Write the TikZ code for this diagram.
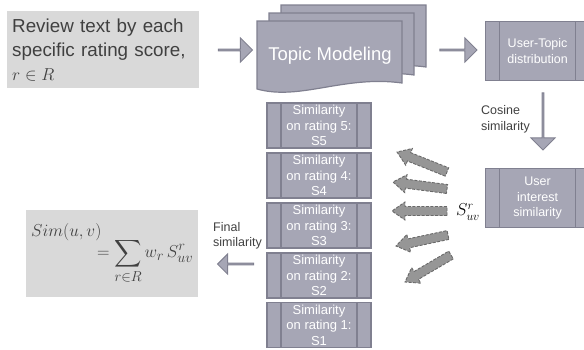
\documentclass[tikz,border=0pt]{standalone}
\usepackage[no-math]{fontspec}
\setmainfont{Liberation Sans}
\usepackage{amsmath}
\usepackage{amssymb}
\usepackage{tikz}
\usetikzlibrary{shapes}
\usetikzlibrary{shapes.arrows}
\usetikzlibrary{calc}
\usetikzlibrary{positioning}
\definecolor{boxfill}{RGB}{166,166,181}
\definecolor{boxedge}{RGB}{128,128,144}
\definecolor{lightfill}{RGB}{217,217,217}
\definecolor{darktext}{RGB}{64,64,64}
\definecolor{dashfill}{RGB}{150,150,150}
\definecolor{dashedge}{RGB}{105,105,105}
\tikzstyle{process}=[rectangle,draw=boxedge,fill=boxfill,line width=1.2pt,inner sep=0pt,text=white,align=center,minimum width=104pt,font=\fontsize{12.5}{15.5}\selectfont,
  path picture={\draw[boxedge,line width=1.2pt] ([xshift=14pt]path picture bounding box.north west) -- ([xshift=14pt]path picture bounding box.south west)
    ([xshift=-14pt]path picture bounding box.north east) -- ([xshift=-14pt]path picture bounding box.south east);}]
\tikzstyle{plain}=[rectangle,fill=lightfill,inner sep=5pt,text=darktext,align=left]
\tikzstyle{bigarrow}=[single arrow,draw=boxedge,fill=boxfill,line width=1pt,inner sep=0pt,minimum width=24pt,single arrow head extend=6pt]
\tikzstyle{fanarrow}=[draw=dashedge,fill=dashfill,dash pattern=on 3pt off 1.5pt,line width=0.9pt,line join=miter]
\tikzstyle{note}=[text=darktext,align=left,inner sep=0pt,font=\fontsize{12.5}{15.5}\selectfont]
\newcommand{\fatarrow}[2]{%
  \coordinate (fh) at ($(#2)!13pt!(#1)$);
  \draw[fanarrow] ($(#1)!4.5pt!90:(#2)$) -- ($(fh)!4.5pt!-90:(#1)$) -- ($(fh)!9pt!-90:(#1)$) -- (#2)
    -- ($(fh)!9pt!90:(#1)$) -- ($(fh)!4.5pt!90:(#1)$) -- ($(#1)!4.5pt!-90:(#2)$) -- cycle;}

\begin{document}
\begin{tikzpicture}[x=1pt,y=-1pt]
  \useasboundingbox (0,0) rectangle (584,349);
  \node[plain,anchor=north west,text width=182pt,minimum height=77pt,font=\fontsize{18.8}{24}\selectfont] at (7,11) (review) {Review text by each\\specific rating score,\\$r\in R$};
  \foreach \dx/\dy in {24/-16,12/-8,0/0}
    \draw[boxedge,fill=boxfill,line width=1.2pt,shift={(\dx,\dy)}] (257,89) -- (257,21) -- (402,21) -- (402,83) .. controls (344,75) and (300,101) .. (257,89) -- cycle;
  \node[text=white,font=\fontsize{18.5}{22}\selectfont] at (330,56) (topic) {Topic Modeling};
  \node[bigarrow,minimum height=34pt] at (235,50) (toTopic) {};
  \node[bigarrow,minimum height=37pt] at (458,50) (toDist) {};
  \node[process,minimum height=59pt,anchor=north west] at (485,21) (dist) {User-Topic\\distribution};
  \node[bigarrow,minimum height=57pt,shape border rotate=270] at (543,121) (toCos) {};
  \node[note,anchor=west] at (481,119.5) (cosine) {Cosine\\similarity};
  \node[process,minimum height=59pt,anchor=north west] at (485,168) (interest) {User\\interest\\similarity};
  \node[font=\fontsize{17}{20}\selectfont] at (468,212) (suv) {$S_{uv}^{r}$};
  \foreach \r/\y in {5/125.5,4/175.5,3/225.5,2/275.5,1/325}
    \node[process,minimum height=45pt,font=\fontsize{13}{15.5}\selectfont] at (319,\y) (sim\r) {Similarity\\on rating \r:\\S\r};
  \foreach \i/\tx/\ty/\px/\py in {5/447/172/397/152,4/447/189/393/182,3/447/211/392/211,2/448/235/396/246,1/451/255/405/282}{
    \coordinate (tail\i) at (\tx,\ty);
    \coordinate (tip\i) at (\px,\py);
    \fatarrow{tail\i}{tip\i}
  }
  \node[bigarrow,minimum width=20pt,single arrow head extend=5pt,minimum height=36pt,shape border rotate=180] at (236,264) (toFinal) {};
  \node[note,anchor=west] at (213,236) (final) {Final\\similarity};
  \node[plain,anchor=north west,text width=162pt,minimum height=87pt,font=\fontsize{19}{22}\selectfont] at (26,210) (simuv) {$Sim(u,v)$\\[-3pt]\mbox{}\hfill$\displaystyle =\sum_{r\in R} w_r\,S_{uv}^{r}$};
\end{tikzpicture}
\end{document}
